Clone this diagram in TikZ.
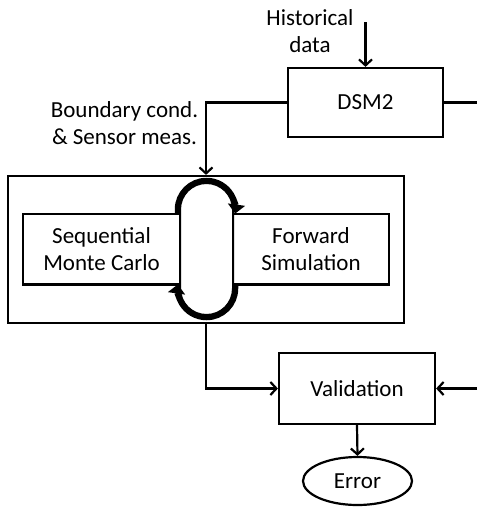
\documentclass[tikz,border=0pt]{standalone}
\usepackage{fontspec}
\setmainfont{Carlito}
\usetikzlibrary{arrows.meta,shapes.geometric}
\begin{document}
\begin{tikzpicture}[x=1pt,y=1pt,
  txt/.style={font=\fontsize{23}{27}\selectfont},
  box/.style={draw, line width=2.2pt, rectangle, inner sep=0pt, align=center, txt},
  lbl/.style={align=center, inner sep=0pt, txt},
  ln/.style={line width=2.2pt},
  conn/.style={line width=2.2pt, -{Straight Barb[length=6pt,width=13pt]}},
  loopline/.style={line width=2pt},
  looparrow/.style={line width=5.5pt, -{Triangle[length=9pt,width=17pt]}},
]
\useasboundingbox (0,0) rectangle (477,-509);
% boxes
\node[box, minimum width=155pt, minimum height=69pt] (dsm) at (365.5,-102.5) {DSM2};
\node[draw, line width=2.2pt, minimum width=396pt, minimum height=147pt, inner sep=0pt] (outer) at (206,-249.5) {};
\node[box, minimum width=157pt, minimum height=70.5pt] (smc) at (101.5,-249.25) {Sequential\\Monte Carlo};
\node[box, minimum width=156pt, minimum height=70.5pt] (fwd) at (311,-249.25) {Forward\\Simulation};
\node[box, minimum width=156pt, minimum height=71pt] (val) at (357,-388.5) {Validation};
\node[draw, ellipse, line width=2.2pt, inner sep=0pt, minimum width=109pt, minimum height=48pt, txt] (err) at (357.5,-481) {Error};
% labels
\node[lbl, anchor=base] (hist) at (310,-52) {Historical\\data};
\node[lbl, anchor=base] (bnd) at (124.5,-144) {Boundary cond.\\\& Sensor meas.};
% connectors
\coordinate (hin) at (365.5,-22);
\coordinate (rout) at (477,-102.5);
\coordinate (rin) at (477,-388.5);
\draw[conn] (hin) -- (dsm.north);
\draw[ln] (dsm.east) -- (rout);
\draw[conn] (dsm.west) -| (outer.north);
\draw[conn] (outer.south) |- (val.west);
\draw[conn] (rin) -- (val.east);
\draw[conn] (val.south) -- (err.north);
% loop
\draw[loopline] (180,-209.5) -- (180,-288.5) arc[start angle=180,end angle=360,radius=26.5]
  -- (233,-209.5) arc[start angle=0,end angle=180,radius=26.5];
\draw[looparrow] (177.5,-214) -- (177.5,-209.5) arc[start angle=180,end angle=-8,radius=29];
\draw[looparrow] (235.5,-284) -- (235.5,-288.5) arc[start angle=0,end angle=-188,radius=29];
\end{tikzpicture}
\end{document}
